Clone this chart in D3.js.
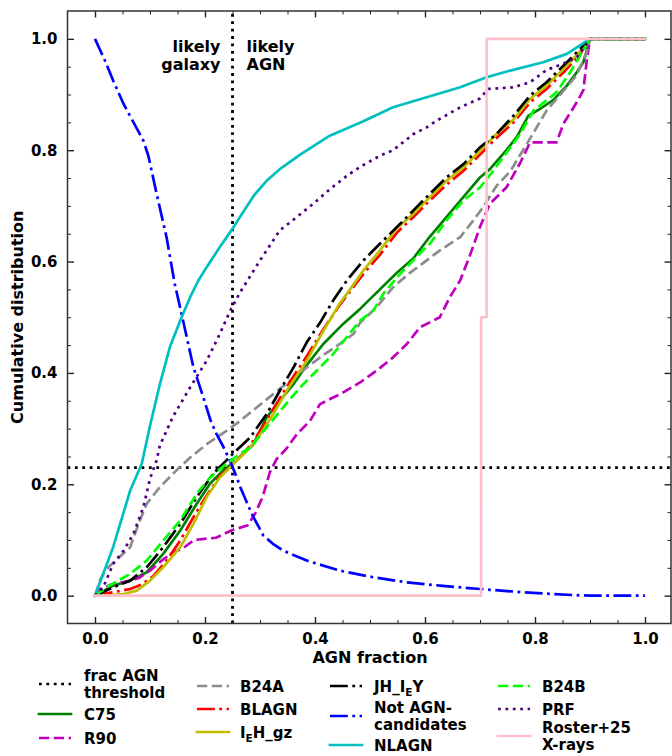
<!DOCTYPE html>
<html>
<head>
<meta charset="utf-8">
<script src="https://cdn.jsdelivr.net/npm/d3@7"></script>
<style>
  body { margin: 0; background: #fff; }
  svg { display: block; }
  text { font-family: "DejaVu Sans", sans-serif; font-weight: bold; fill: #000; }
</style>
</head>
<body>
<svg id="chart" width="672" height="756"></svg>
<script>
// ---- data: cumulative distributions of the AGN fraction, [fraction, cumulative] ----
const c75 = [[0,0],[0.033,0.018],[0.064,0.027],[0.094,0.042],[0.124,0.075],[0.155,0.117],[0.185,0.165],[0.209,0.201],[0.233,0.225],[0.258,0.243],[0.288,0.272],[0.312,0.32],[0.336,0.35],[0.361,0.38],[0.385,0.414],[0.415,0.452],[0.448,0.485],[0.482,0.515],[0.518,0.55],[0.549,0.58],[0.579,0.606],[0.609,0.645],[0.639,0.68],[0.67,0.716],[0.7,0.751],[0.718,0.766],[0.748,0.8],[0.767,0.824],[0.788,0.862],[0.809,0.874],[0.833,0.89],[0.858,0.916],[0.876,0.94],[0.888,0.958],[0.9,1.0],[1.0,1.0]];
const r90 = [[0,0],[0.01,0.012],[0.03,0.02],[0.06,0.026],[0.08,0.032],[0.1,0.045],[0.12,0.062],[0.142,0.078],[0.16,0.085],[0.18,0.1],[0.22,0.104],[0.25,0.118],[0.277,0.126],[0.291,0.147],[0.305,0.178],[0.318,0.222],[0.33,0.245],[0.348,0.264],[0.367,0.29],[0.391,0.314],[0.409,0.344],[0.433,0.356],[0.448,0.363],[0.482,0.383],[0.512,0.404],[0.542,0.428],[0.567,0.452],[0.591,0.482],[0.627,0.5],[0.645,0.536],[0.664,0.566],[0.682,0.612],[0.7,0.662],[0.718,0.704],[0.748,0.733],[0.773,0.777],[0.791,0.814],[0.839,0.814],[0.852,0.848],[0.876,0.886],[0.888,0.908],[0.894,0.96],[0.9,1.0],[1.0,1.0]];
const b24a = [[0,0],[0.01,0.03],[0.021,0.048],[0.04,0.065],[0.064,0.087],[0.079,0.129],[0.094,0.165],[0.118,0.195],[0.148,0.225],[0.173,0.248],[0.203,0.272],[0.239,0.296],[0.264,0.314],[0.294,0.338],[0.324,0.362],[0.355,0.386],[0.385,0.41],[0.415,0.432],[0.445,0.452],[0.47,0.47],[0.482,0.49],[0.512,0.518],[0.542,0.554],[0.573,0.58],[0.603,0.602],[0.627,0.62],[0.664,0.644],[0.688,0.674],[0.706,0.698],[0.73,0.736],[0.755,0.762],[0.785,0.811],[0.821,0.871],[0.852,0.907],[0.876,0.935],[0.894,0.976],[0.9,1.0],[1.0,1.0]];
const blagn = [[0,0],[0.033,0.006],[0.064,0.012],[0.085,0.02],[0.106,0.035],[0.13,0.063],[0.155,0.099],[0.179,0.141],[0.203,0.18],[0.227,0.215],[0.25,0.235],[0.276,0.262],[0.3,0.295],[0.324,0.335],[0.355,0.385],[0.385,0.43],[0.415,0.478],[0.445,0.522],[0.488,0.578],[0.518,0.612],[0.549,0.652],[0.579,0.68],[0.609,0.71],[0.639,0.738],[0.67,0.763],[0.7,0.792],[0.73,0.822],[0.761,0.85],[0.791,0.886],[0.821,0.91],[0.852,0.94],[0.88,0.97],[0.9,1.0],[1.0,1.0]];
const iehGz = [[0,0],[0.03,0.001],[0.052,0.003],[0.076,0.009],[0.1,0.027],[0.124,0.051],[0.155,0.087],[0.179,0.129],[0.203,0.177],[0.227,0.212],[0.252,0.237],[0.276,0.26],[0.294,0.28],[0.324,0.326],[0.355,0.378],[0.385,0.422],[0.415,0.475],[0.445,0.525],[0.458,0.542],[0.488,0.584],[0.518,0.62],[0.549,0.66],[0.579,0.686],[0.609,0.716],[0.639,0.745],[0.67,0.769],[0.7,0.799],[0.73,0.829],[0.761,0.855],[0.791,0.892],[0.821,0.916],[0.858,0.952],[0.894,0.991],[0.9,1.0],[1.0,1.0]];
const jhIeY = [[0,0],[0.033,0.015],[0.064,0.027],[0.094,0.051],[0.124,0.087],[0.155,0.129],[0.185,0.177],[0.215,0.219],[0.239,0.243],[0.252,0.256],[0.282,0.284],[0.312,0.326],[0.336,0.368],[0.361,0.41],[0.385,0.455],[0.409,0.49],[0.433,0.53],[0.458,0.566],[0.488,0.602],[0.518,0.632],[0.549,0.662],[0.579,0.692],[0.609,0.722],[0.639,0.751],[0.67,0.775],[0.7,0.805],[0.73,0.829],[0.761,0.862],[0.791,0.898],[0.821,0.922],[0.858,0.958],[0.894,0.994],[0.9,1.0],[1.0,1.0]];
const notAgn = [[0,1.0],[0.018,0.961],[0.033,0.925],[0.052,0.883],[0.07,0.85],[0.088,0.817],[0.097,0.79],[0.112,0.722],[0.13,0.644],[0.145,0.56],[0.161,0.49],[0.179,0.41],[0.197,0.356],[0.21,0.315],[0.221,0.29],[0.233,0.268],[0.245,0.243],[0.258,0.212],[0.264,0.195],[0.275,0.17],[0.285,0.147],[0.306,0.108],[0.325,0.092],[0.342,0.081],[0.385,0.063],[0.445,0.045],[0.506,0.033],[0.567,0.024],[0.627,0.018],[0.7,0.012],[0.779,0.006],[0.87,0.001],[0.9,0],[1.0,0]];
const nlagn = [[0,0],[0.033,0.087],[0.064,0.189],[0.085,0.237],[0.1,0.305],[0.118,0.38],[0.136,0.446],[0.155,0.494],[0.173,0.536],[0.188,0.566],[0.203,0.59],[0.227,0.626],[0.248,0.656],[0.27,0.69],[0.29,0.72],[0.312,0.745],[0.336,0.766],[0.373,0.792],[0.427,0.826],[0.488,0.852],[0.542,0.877],[0.603,0.895],[0.664,0.913],[0.712,0.931],[0.755,0.943],[0.815,0.958],[0.858,0.973],[0.9,1.0],[1.0,1.0]];
const b24b = [[0,0],[0.021,0.015],[0.064,0.039],[0.094,0.063],[0.124,0.099],[0.155,0.135],[0.185,0.183],[0.209,0.212],[0.239,0.237],[0.264,0.255],[0.282,0.266],[0.312,0.302],[0.342,0.338],[0.373,0.374],[0.403,0.404],[0.433,0.434],[0.482,0.494],[0.506,0.512],[0.524,0.542],[0.555,0.578],[0.591,0.615],[0.609,0.632],[0.639,0.674],[0.67,0.71],[0.7,0.733],[0.724,0.763],[0.742,0.787],[0.773,0.829],[0.797,0.871],[0.809,0.88],[0.839,0.904],[0.864,0.94],[0.882,0.97],[0.9,1.0],[1.0,1.0]];
const prf = [[0,0],[0.015,0.015],[0.033,0.057],[0.052,0.081],[0.07,0.111],[0.088,0.159],[0.1,0.21],[0.112,0.243],[0.118,0.27],[0.142,0.322],[0.173,0.374],[0.203,0.422],[0.227,0.47],[0.245,0.51],[0.264,0.545],[0.3,0.602],[0.336,0.656],[0.367,0.68],[0.397,0.704],[0.427,0.73],[0.458,0.754],[0.482,0.77],[0.518,0.79],[0.542,0.8],[0.579,0.829],[0.603,0.841],[0.621,0.853],[0.664,0.877],[0.7,0.893],[0.715,0.91],[0.761,0.913],[0.791,0.922],[0.821,0.944],[0.858,0.958],[0.876,0.967],[0.9,1.0],[1.0,1.0]];
const roster = [[0,0],[0.702,0],[0.702,0.5],[0.712,0.5],[0.712,1.0],[1.0,1.0]];

const agnThreshold = 0.25;      // vertical threshold in AGN fraction
const cumThreshold = 0.23;      // horizontal threshold in cumulative distribution

const xTickValues = [0, 0.2, 0.4, 0.6, 0.8, 1.0];
const yTickValues = [0, 0.2, 0.4, 0.6, 0.8, 1.0];
const minorStep = 0.05;

// series drawn in legend order (column by column)
const series = [
  { label: ["C75"],                  data: c75,    color: "#008000", dash: "solid" },
  { label: ["R90"],                  data: r90,    color: "#bf00bf", dash: "dashed" },
  { label: ["B24A"],                 data: b24a,   color: "#8c8c8c", dash: "dashed" },
  { label: ["BLAGN"],                data: blagn,  color: "#ff0000", dash: "dashdot" },
  { label: ["I{E}H_gz"],             data: iehGz,  color: "#bfbf00", dash: "solid" },
  { label: ["JH_I{E}Y"],             data: jhIeY,  color: "#000000", dash: "dashdot" },
  { label: ["Not AGN-", "candidates"], data: notAgn, color: "#0000ff", dash: "dashdot" },
  { label: ["NLAGN"],                data: nlagn,  color: "#00bfbf", dash: "solid" },
  { label: ["B24B"],                 data: b24b,   color: "#00ff00", dash: "dashed" },
  { label: ["PRF"],                  data: prf,    color: "#4b0082", dash: "dotted" },
  { label: ["Roster+25", "X-rays"],  data: roster, color: "#ffc0cb", dash: "solid" }
];
const thresholdEntry = { label: ["frac AGN", "threshold"], color: "#000000", dash: "dotted" };

// ---- layout ----
const svg = d3.select("#chart");
const plot = { left: 67.5, right: 672.5, top: 11, bottom: 623.5 };
const lw = 2.7;
const dashes = {
  solid: null,
  dashed: "10.3,4.5",
  dashdot: "17.8,4.5,2.8,4.5",
  dotted: "2.8,4.6"
};

const x = d3.scaleLinear().domain([-0.05, 1.05]).range([plot.left, plot.right]);
const y = d3.scaleLinear().domain([-0.05, 1.05]).range([plot.bottom, plot.top]);

svg.append("defs").append("clipPath").attr("id", "plotclip")
  .append("rect").attr("x", plot.left).attr("y", plot.top)
  .attr("width", plot.right - plot.left).attr("height", plot.bottom - plot.top);

const g = svg.append("g").attr("clip-path", "url(#plotclip)");

const line = d3.line().x(d => x(d[0])).y(d => y(d[1]));

function styleLine(sel, color, dash) {
  sel.attr("fill", "none").attr("stroke", color).attr("stroke-width", lw)
    .attr("stroke-linejoin", "round")
    .attr("stroke-linecap", dash === "solid" ? "square" : "butt");
  if (dashes[dash]) sel.attr("stroke-dasharray", dashes[dash]);
  return sel;
}

// threshold lines
styleLine(g.append("line")
  .attr("x1", x(agnThreshold)).attr("x2", x(agnThreshold))
  .attr("y1", y(-0.05)).attr("y2", y(1.05)), thresholdEntry.color, thresholdEntry.dash)
  .attr("stroke-width", 2.8);
styleLine(g.append("line")
  .attr("x1", x(-0.05)).attr("x2", x(1.05))
  .attr("y1", y(cumThreshold)).attr("y2", y(cumThreshold)), thresholdEntry.color, thresholdEntry.dash)
  .attr("stroke-width", 2.8);

// the cumulative curves
series.forEach(s => {
  styleLine(g.append("path").datum(s.data).attr("d", line), s.color, s.dash);
});

// annotation on either side of the threshold
const annot = svg.append("g").style("font-size", "16px");
annot.append("text").attr("x", x(agnThreshold) - 12).attr("y", 52).attr("text-anchor", "end").text("likely");
annot.append("text").attr("x", x(agnThreshold) - 12).attr("y", 70).attr("text-anchor", "end").text("galaxy");
annot.append("text").attr("x", x(agnThreshold) + 14).attr("y", 52).attr("text-anchor", "start").text("likely");
annot.append("text").attr("x", x(agnThreshold) + 14).attr("y", 70).attr("text-anchor", "start").text("AGN");

// ---- axes: inward ticks on all four sides ----
const minorX = d3.range(0, 1.0001, minorStep).filter(v => !xTickValues.some(t => Math.abs(t - v) < 1e-6));
const minorY = minorX.slice();
const fmt = d3.format(".1f");

function addAxis(axisFn, scale, ticks, size, labels, transform) {
  const ax = axisFn(scale).tickValues(ticks).tickSize(-size)
    .tickFormat(labels ? fmt : "").tickPadding(labels ? 10 : 0);
  const sel = svg.append("g").attr("transform", transform).call(ax);
  sel.select(".domain").remove();
  sel.selectAll(".tick line").attr("stroke", "#222").attr("stroke-width", size > 4 ? 1.4 : 1.0);
  sel.selectAll(".tick text").style("font-size", "15px").style("font-family", "DejaVu Sans").style("font-weight", "bold").attr("fill", "#000");
  return sel;
}

addAxis(d3.axisBottom, x, xTickValues, 6.5, true, `translate(0,${plot.bottom})`);
addAxis(d3.axisBottom, x, minorX, 3.5, false, `translate(0,${plot.bottom})`);
addAxis(d3.axisTop, x, xTickValues, 6.5, false, `translate(0,${plot.top})`);
addAxis(d3.axisTop, x, minorX, 3.5, false, `translate(0,${plot.top})`);
addAxis(d3.axisLeft, y, yTickValues, 6.5, true, `translate(${plot.left},0)`);
addAxis(d3.axisLeft, y, minorY, 3.5, false, `translate(${plot.left},0)`);
addAxis(d3.axisRight, y, yTickValues, 6.5, false, `translate(${plot.right - 1.5},0)`);
addAxis(d3.axisRight, y, minorY, 3.5, false, `translate(${plot.right - 1.5},0)`);

// frame
svg.append("rect")
  .attr("x", plot.left).attr("y", plot.top)
  .attr("width", plot.right - 1.5 - plot.left).attr("height", plot.bottom - plot.top)
  .attr("fill", "none").attr("stroke", "#333").attr("stroke-width", 1.5);

// axis titles
svg.append("text").attr("x", (plot.left + plot.right) / 2).attr("y", 663)
  .attr("text-anchor", "middle").style("font-size", "16px").text("AGN fraction");
svg.append("text")
  .attr("transform", `translate(23,${(plot.top + plot.bottom) / 2}) rotate(-90)`)
  .attr("text-anchor", "middle").style("font-size", "16px").text("Cumulative distribution");

// ---- legend: four columns below the axes ----
const legendCols = [
  { hx: 39, tx: 84, entries: [thresholdEntry, series[0], series[1]], rows: [684, 714, 738] },
  { hx: 197, tx: 240, entries: [series[2], series[3], series[4]], rows: [686, 709, 732] },
  { hx: 330, tx: 374, entries: [series[5], series[6], series[7]], rows: [686, 716, 745] },
  { hx: 498, tx: 542, entries: [series[8], series[9], series[10]], rows: [686, 709, 736] }
];
const handleLen = 32;
const lineGap = 17;

function writeLabel(textSel, str) {
  // "{E}" marks a subscript
  const parts = str.split(/(\{[^}]*\})/).filter(p => p.length);
  let sub = false;
  parts.forEach(p => {
    if (p.startsWith("{")) {
      textSel.append("tspan").attr("dy", 4).style("font-size", "10.5px").text(p.slice(1, -1));
      sub = true;
    } else {
      const t = textSel.append("tspan").text(p);
      if (sub) { t.attr("dy", -4); sub = false; }
    }
  });
}

const legend = svg.append("g");
legendCols.forEach(col => {
  col.entries.forEach((e, i) => {
    const cy = col.rows[i];
    const h = legend.append("line")
      .attr("x1", col.hx).attr("x2", col.hx + handleLen)
      .attr("y1", cy).attr("y2", cy);
    styleLine(h, e.color, e.dash);
    const n = e.label.length;
    e.label.forEach((ln, k) => {
      const ty = cy + (k - (n - 1) / 2) * lineGap + 5.5;
      const t = legend.append("text").attr("x", col.tx).attr("y", ty).style("font-size", "15px");
      writeLabel(t, ln);
    });
  });
});
</script>
</body>
</html>
